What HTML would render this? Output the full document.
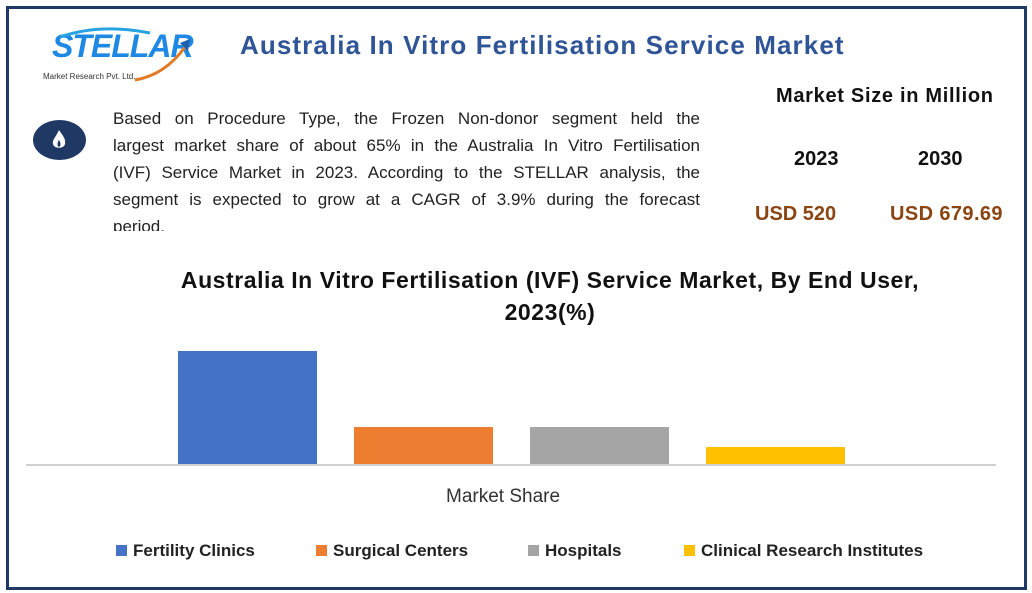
<!DOCTYPE html>
<html><head><style>
body{margin:0;width:1032px;height:593px;background:#fff;position:relative;overflow:hidden;font-family:"Liberation Sans",sans-serif;}
.frame{position:absolute;left:6px;top:6px;width:1015px;height:578px;border:3px solid #1f3864;}
.abs{position:absolute;}
.title{left:240px;top:30px;font-size:26px;font-weight:bold;color:#2f5597;letter-spacing:1.1px;}
.para{left:113px;top:105px;width:587px;font-size:17px;line-height:27px;color:#222;height:126px;overflow:hidden;}
.para div{text-align:justify;text-align-last:justify;white-space:nowrap;}
.b{font-weight:bold;color:#111;}
.bar{position:absolute;}
.leg{position:absolute;top:541px;font-size:17px;font-weight:bold;color:#222;}
.sq{display:inline-block;width:11px;height:11px;margin-right:6px;}
</style></head><body>
<div class="frame"></div>
<div class="abs" style="left:52px;top:28px;font-size:32px;color:#1e88e5;font-weight:bold;font-style:italic;letter-spacing:-1px">STELLAR</div>
<svg class="abs" style="left:40px;top:25px" width="160" height="60"><path d="M20 12 Q60 -2 110 8" stroke="#29a3e0" stroke-width="3" fill="none"/><path d="M95 55 Q125 50 145 22" stroke="#e07b2a" stroke-width="3" fill="none"/><polygon points="140,18 150,14 148,26" fill="#1e5fb0"/></svg>
<div class="abs" style="left:43px;top:72px;font-size:8px;color:#333">Market Research Pvt. Ltd.</div>
<div class="abs title">Australia In Vitro Fertilisation Service Market</div>
<div class="abs" style="left:33px;top:120px;width:53px;height:40px;border-radius:50%;background:#1f3864"></div>
<svg class="abs" style="left:49px;top:129px" width="20" height="22"><path d="M10 1 C13 6 17 9 16 15 C15 20 5 20 4 15 C3 11 7 8 10 1Z" fill="#fff"/><path d="M10 11 C12 14 12 17 10 18 C8 17 8 14 10 11Z" fill="#1f3864"/></svg>
<div class="abs para">
<div style="white-space:normal">Based on Procedure Type, the Frozen Non-donor segment held the</div>
<div style="white-space:normal">largest market share of about 65% in the Australia In Vitro Fertilisation</div>
<div style="white-space:normal">(IVF) Service Market in 2023. According to the STELLAR analysis, the</div>
<div style="white-space:normal">segment is expected to grow at a CAGR of 3.9% during the forecast</div>
<div style="text-align-last:left">period.</div>
</div>
<div class="abs b" style="left:776px;top:85px;font-size:20px;letter-spacing:0.7px">Market Size in Million</div>
<div class="abs b" style="left:794px;top:148px;font-size:20px">2023</div>
<div class="abs b" style="left:918px;top:148px;font-size:20px">2030</div>
<div class="abs" style="left:755px;top:203px;font-size:20px;font-weight:bold;color:#8b4513">USD 520</div>
<div class="abs" style="left:890px;top:203px;font-size:20px;font-weight:bold;color:#8b4513;letter-spacing:0.4px">USD 679.69</div>
<div class="abs b" style="left:100px;top:264px;width:900px;text-align:center;font-size:23px;line-height:32px;letter-spacing:0.55px">Australia In Vitro Fertilisation (IVF) Service Market, By End User,<br>2023(%)</div>
<div class="bar" style="left:178px;top:351px;width:139px;height:114px;background:#4472c4"></div>
<div class="bar" style="left:354px;top:427px;width:139px;height:38px;background:#ed7d31"></div>
<div class="bar" style="left:530px;top:427px;width:139px;height:38px;background:#a5a5a5"></div>
<div class="bar" style="left:706px;top:447px;width:139px;height:18px;background:#ffc000"></div>
<div class="abs" style="left:26px;top:464px;width:970px;height:2px;background:#d0d0d0"></div>
<div class="abs" style="left:446px;top:486px;font-size:19px;color:#333">Market Share</div>
<div class="leg" style="left:116px"><span class="sq" style="background:#4472c4"></span>Fertility Clinics</div>
<div class="leg" style="left:316px"><span class="sq" style="background:#ed7d31"></span>Surgical Centers</div>
<div class="leg" style="left:528px"><span class="sq" style="background:#a5a5a5"></span>Hospitals</div>
<div class="leg" style="left:684px"><span class="sq" style="background:#ffc000"></span>Clinical Research Institutes</div>
</body></html>
